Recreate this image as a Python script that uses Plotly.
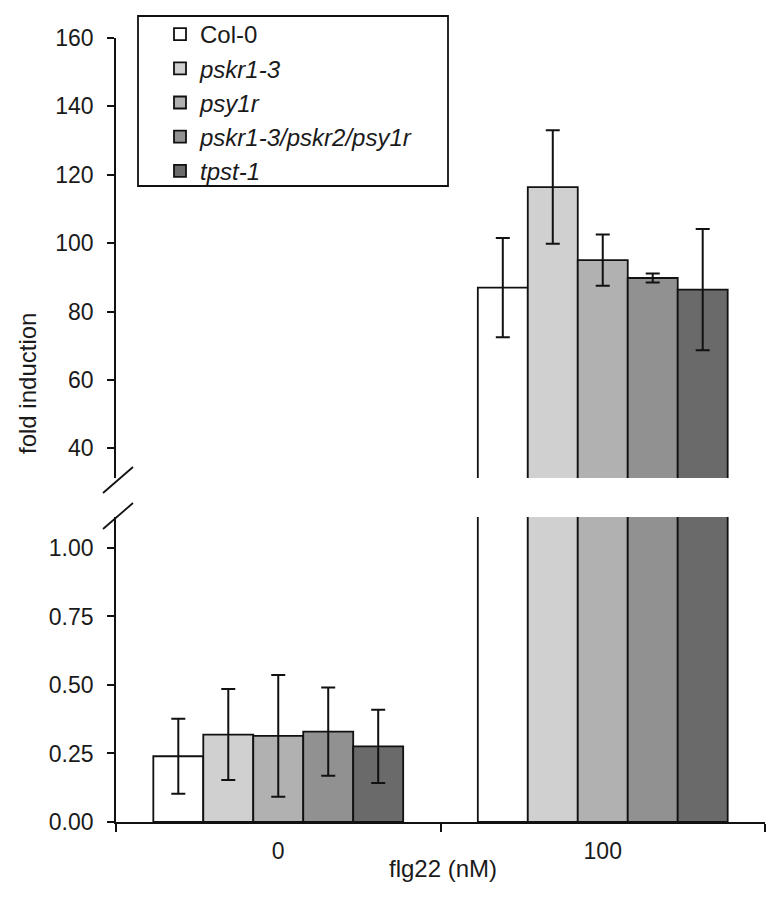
import plotly.graph_objects as go

categories = ["0", "100"]
series_names = ["Col-0", "pskr1-3", "psy1r", "pskr1-3/pskr2/psy1r", "tpst-1"]
legend_labels = ["Col-0", "<i>pskr1-3</i>", "<i>psy1r</i>", "<i>pskr1-3/pskr2/psy1r</i>", "<i>tpst-1</i>"]
values_0 = [0.240, 0.319, 0.314, 0.330, 0.276]
errors_0 = [0.137, 0.166, 0.222, 0.161, 0.134]
values_100 = [87.0, 116.4, 95.0, 89.8, 86.4]
errors_100 = [14.5, 16.6, 7.5, 1.3, 17.7]
colors = ["#ffffff", "#d0d0d0", "#b1b1b1", "#919191", "#6a6a6a"]
top_ticks = [40, 60, 80, 100, 120, 140, 160]
bottom_ticks = [0, 0.25, 0.5, 0.75, 1.0]

# page has an 8px body margin; compensate so page coordinates match
OFF = 8
W, H = 783 - OFF, 900 - OFF
plot_left, plot_right, plot_top, plot_bottom = 116, 765, 38, 822  # page px
L, T = plot_left - OFF, plot_top - OFF
R = W - (plot_right - OFF)
B = H - (plot_bottom - OFF)
pw, ph = plot_right - plot_left, plot_bottom - plot_top

def px_x(p):
    return (p - plot_left) / pw

def px_y(p):
    return (plot_bottom - p) / ph

top_dom = [px_y(478), 1.0]
bot_dom = [0.0, px_y(517)]

INK = "#111111"
fig = go.Figure()
for i, name in enumerate(series_names):
    vals = [values_0[i], values_100[i]]
    errs = [errors_0[i], errors_100[i]]
    for ax, show in (("y", True), ("y2", False)):
        fig.add_trace(go.Bar(
            x=categories, y=vals, name=legend_labels[i],
            marker=dict(color=colors[i], line=dict(color=INK, width=1.8)),
            error_y=dict(type="data", array=errs, color=INK, thickness=2, width=7),
            xaxis="x" if ax == "y2" else "x2", yaxis=ax,
            showlegend=show, legendgroup=name,
        ))

font_family = "Liberation Sans, Arial, sans-serif"
fig.update_layout(
    width=W, height=H,
    margin=dict(l=L, r=R, t=T, b=B, autoexpand=False),
    paper_bgcolor="white", plot_bgcolor="white",
    barmode="group", bargap=0.23, bargroupgap=0,
    font=dict(family=font_family, size=23, color="#1a1a1a"),
    xaxis=dict(domain=[0, 1], anchor="y2", type="category", range=[-0.5, 1.5],
               showline=True, linecolor=INK, linewidth=1.8,
               ticks="outside", tickson="boundaries", ticklen=8, tickwidth=1.8, tickcolor=INK,
               showgrid=False, tickfont=dict(size=23), ticklabelstandoff=7),
    xaxis2=dict(domain=[0, 1], anchor="y", matches="x", type="category",
                showline=False, showticklabels=False, ticks="", showgrid=False),
    yaxis=dict(domain=top_dom, range=[31.3, 160], anchor="x2",
               tickvals=top_ticks, showline=True, linecolor=INK, linewidth=1.8,
               ticks="outside", ticklen=7, tickwidth=1.8, tickcolor=INK,
               showgrid=False, zeroline=False, tickfont=dict(size=23), ticklabelstandoff=9),
    yaxis2=dict(domain=bot_dom, range=[0, 1.113], anchor="x",
                tickvals=bottom_ticks, tickformat=".2f", showline=True, linecolor=INK, linewidth=1.8,
                ticks="outside", ticklen=7, tickwidth=1.8, tickcolor=INK,
                showgrid=False, zeroline=False, tickfont=dict(size=23), ticklabelstandoff=9),
    legend=dict(x=px_x(160), y=px_y(12), xanchor="left", yanchor="top",
                borderwidth=0, bgcolor="rgba(0,0,0,0)",
                font=dict(size=24), tracegroupgap=0, traceorder="normal"),
    showlegend=True,
)

# legend frame
fig.add_shape(type="rect", xref="paper", yref="paper",
              x0=px_x(138), y0=px_y(186), x1=px_x(448), y1=px_y(16),
              line=dict(color=INK, width=1.8), fillcolor="white", layer="below")

# axis break marks
for py in (480, 516):
    fig.add_shape(type="line", xref="paper", yref="paper",
                  x0=px_x(103), y0=px_y(py + 13), x1=px_x(133), y1=px_y(py - 13),
                  line=dict(color=INK, width=1.8))

fig.add_annotation(text="fold induction", xref="paper", yref="paper",
                   x=px_x(27), y=px_y(384), textangle=-90, showarrow=False,
                   font=dict(size=24), xanchor="center", yanchor="middle")
fig.add_annotation(text="flg22 (nM)", xref="paper", yref="paper",
                   x=px_x(443), y=px_y(869), showarrow=False,
                   font=dict(size=24), xanchor="center", yanchor="middle")

fig.write_html("out.html")
